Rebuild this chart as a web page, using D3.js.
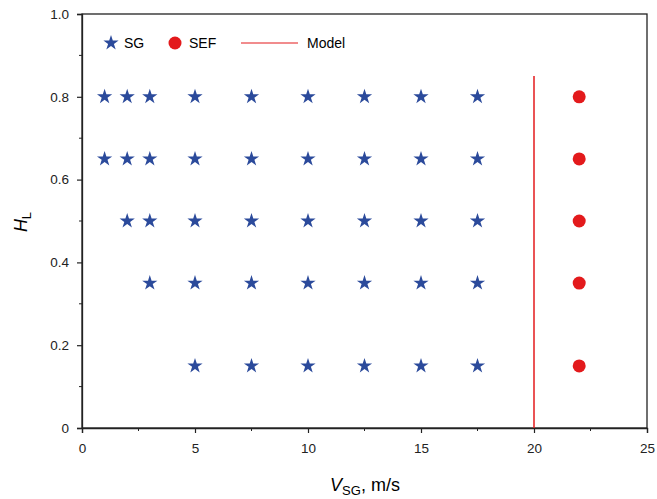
<!DOCTYPE html>
<html>
<head>
<meta charset="utf-8">
<script src="https://cdn.jsdelivr.net/npm/d3@7"></script>
<style>
  body { margin: 0; background: #fff; }
  svg { font-family: "Liberation Sans", Arial, sans-serif; }
</style>
</head>
<body>
<div id="chart"></div>
<script>
// SG (stratified gas) points: each row shares an H_L value
const sgRows = [
  { hl: 0.8, vsg: [1, 2, 3, 5, 7.5, 10, 12.5, 15, 17.5] },
  { hl: 0.65, vsg: [1, 2, 3, 5, 7.5, 10, 12.5, 15, 17.5] },
  { hl: 0.5, vsg: [2, 3, 5, 7.5, 10, 12.5, 15, 17.5] },
  { hl: 0.35, vsg: [3, 5, 7.5, 10, 12.5, 15, 17.5] },
  { hl: 0.15, vsg: [5, 7.5, 10, 12.5, 15, 17.5] }
];
const sefVsg = [22, 22, 22, 22, 22];
const sefHl = [0.8, 0.65, 0.5, 0.35, 0.15];
const modelVsg = [20, 20];
const modelHl = [0, 0.85];
const xTicks = [0, 5, 10, 15, 20, 25];
const yTicks = [0, 0.2, 0.4, 0.6, 0.8, 1.0];

const width = 657;
const height = 499;
const margin = { top: 14, right: 10, bottom: 71, left: 82 };
const innerWidth = 647 - margin.left;
const innerHeight = 428 - margin.top;

const svg = d3.select("#chart").append("svg")
  .attr("width", width)
  .attr("height", height);

const x = d3.scaleLinear().domain([0, 25]).range([0, innerWidth]);
const y = d3.scaleLinear().domain([0, 1]).range([innerHeight, 0]);

const g = svg.append("g")
  .attr("transform", `translate(${margin.left},${margin.top})`);

// frame
g.append("rect")
  .attr("width", innerWidth)
  .attr("height", innerHeight)
  .attr("fill", "none")
  .attr("stroke", "#222")
  .attr("stroke-width", 1.3);

// minor ticks
const xMinor = d3.range(2.5, 25, 5);
const yMinor = d3.range(0.1, 1, 0.2);
g.append("g").selectAll("line").data(xMinor).join("line")
  .attr("x1", d => x(d)).attr("x2", d => x(d))
  .attr("y1", innerHeight).attr("y2", innerHeight + 3)
  .attr("stroke", "#222");
g.append("g").selectAll("line").data(yMinor).join("line")
  .attr("y1", d => y(d)).attr("y2", d => y(d))
  .attr("x1", 0).attr("x2", -3)
  .attr("stroke", "#222");

// axes
const xAxis = g.append("g")
  .attr("transform", `translate(0,${innerHeight})`)
  .call(d3.axisBottom(x).tickValues(xTicks).tickFormat(d3.format("d")).tickSize(5).tickPadding(10));
const yAxis = g.append("g")
  .call(d3.axisLeft(y).tickValues(yTicks)
    .tickFormat(d => d === 0 ? "0" : d3.format(".1f")(d)).tickSize(5).tickPadding(8));
[xAxis, yAxis].forEach(a => {
  a.select(".domain").attr("stroke", "#222").attr("stroke-width", 1.3);
  a.selectAll(".tick line").attr("stroke", "#222").attr("stroke-width", 1.2);
  a.selectAll("text").attr("font-size", 13.5).attr("fill", "#222")
    .attr("font-family", "Liberation Sans, Arial, sans-serif");
});

// model line
g.append("line")
  .attr("x1", x(modelVsg[0])).attr("x2", x(modelVsg[1]))
  .attr("y1", y(modelHl[0])).attr("y2", y(modelHl[1]))
  .attr("stroke", "#e31a1c")
  .attr("stroke-width", 1.5);

const star = d3.symbol().type(d3.symbolStar).size(72);
const blue = "#2b4a9b";
const red = "#e31a1c";

const sgPoints = sgRows.flatMap(r => r.vsg.map(v => ({ v, h: r.hl })));
g.append("g").selectAll("path").data(sgPoints).join("path")
  .attr("d", star)
  .attr("transform", d => `translate(${x(d.v)},${y(d.h)})`)
  .attr("fill", blue);

g.append("g").selectAll("circle").data(sefHl).join("circle")
  .attr("cx", (d, i) => x(sefVsg[i]))
  .attr("cy", d => y(d))
  .attr("r", 6.5)
  .attr("fill", red);

// legend
const leg = svg.append("g").attr("transform", "translate(0,43)");
leg.append("path").attr("d", star).attr("transform", "translate(111,0)").attr("fill", blue);
leg.append("text").attr("x", 124).attr("y", 5).attr("font-size", 14).text("SG");
leg.append("circle").attr("cx", 175).attr("cy", 0).attr("r", 6.5).attr("fill", red);
leg.append("text").attr("x", 189).attr("y", 5).attr("font-size", 14).text("SEF");
leg.append("line").attr("x1", 241).attr("x2", 298).attr("y1", 0).attr("y2", 0)
  .attr("stroke", red).attr("stroke-width", 1.2);
leg.append("text").attr("x", 307).attr("y", 5).attr("font-size", 14).text("Model");

// axis labels
const xl = svg.append("text")
  .attr("x", 365).attr("y", 491)
  .attr("text-anchor", "middle")
  .attr("font-size", 18);
xl.append("tspan").attr("font-style", "italic").text("V");
xl.append("tspan").attr("font-size", 13).attr("dy", 4).text("SG");
xl.append("tspan").attr("dy", -4).text(", m/s");

const yl = svg.append("text")
  .attr("transform", "translate(27,222) rotate(-90)")
  .attr("text-anchor", "middle")
  .attr("font-size", 18);
yl.append("tspan").attr("font-style", "italic").text("H");
yl.append("tspan").attr("font-size", 13).attr("dy", 4).text("L");
</script>
</body>
</html>
